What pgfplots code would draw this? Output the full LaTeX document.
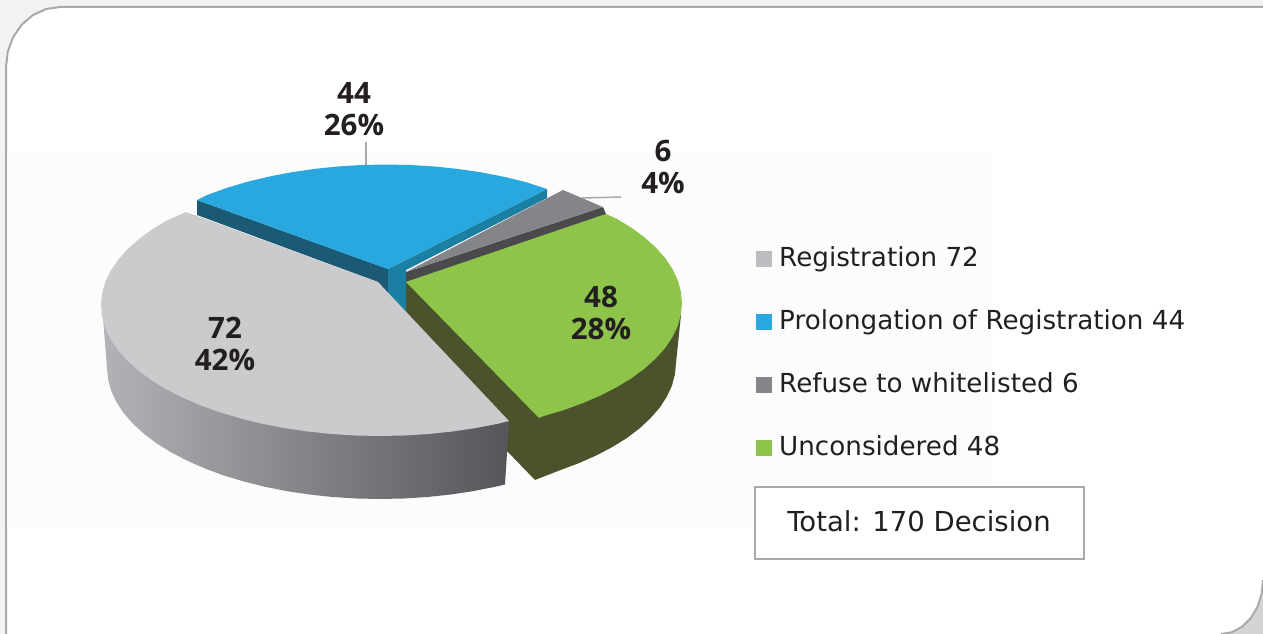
\documentclass[border=0pt]{standalone}
\usepackage{pgfplots}
\pgfplotsset{compat=1.18}
\usepackage{fontspec}
\setmainfont{DejaVu Sans}
\newfontfamily\labelfont[Ligatures=TeX]{Open Sans}
\definecolor{cTxt}{HTML}{231F20}
\definecolor{cFrame}{HTML}{A7A9AC}
\definecolor{cGrayTop}{HTML}{CBCBCD}
\definecolor{cGrayLeg}{HTML}{BCBDC0}
\definecolor{cBlue}{HTML}{29A8DF}
\definecolor{cTealD}{HTML}{1B5A75}
\definecolor{cTealB}{HTML}{1A7FA2}
\definecolor{cDark}{HTML}{848589}
\definecolor{cDarkS}{HTML}{4A4A4D}
\definecolor{cGreen}{HTML}{8DC449}
\definecolor{cGreenS}{HTML}{4A532B}
\definecolor{cSideL}{HTML}{B2B3B6}
\definecolor{cSideM}{HTML}{8B8C90}
\definecolor{cSideR}{HTML}{55555A}
\begin{document}
\begin{tikzpicture}
\begin{axis}[
  scale only axis, width=1263pt, height=634pt,
  xmin=0, xmax=1263, ymin=0, ymax=634, y dir=reverse,
  hide axis, no markers,
  every axis plot/.append style={forget plot},
  legend cell align=left,
  legend image code/.code={\path[#1,draw=none] (0pt,-8pt) rectangle (16pt,8pt); \path (23pt,0pt);},
  legend style={at={(axis cs:756,246)}, anchor=north west, draw=none, fill=none,
    font=\fontsize{26.2}{30}\selectfont, text=cTxt, row sep=37pt,
    inner sep=0pt, outer sep=0pt,
    nodes={inner sep=0pt, outer sep=0pt, text height=20pt, text depth=6pt}},
]
% outer shadow
\addplot[fill=black!5, draw=none] coordinates {(0,0)(1263,0)(1263,7)(60,7)(46,9)(33,15)(21.8,24.6)(13.2,37)(7.8,51.5)(6,67)(6,634)(0,634)} --cycle;
\addplot[fill=black!17, draw=none] coordinates {(1263,580)(1261.6,594)(1257.4,607)(1250.7,618.2)(1242,626.8)(1231.9,632.2)(1221,634)(1263,634)} --cycle;
\addplot[draw=cFrame, line width=2pt] coordinates {(1263,7)(60,7)(46,9)(33,15)(21.8,24.6)(13.2,37)(7.8,51.5)(6,67)(6,634)};
\addplot[draw=cFrame, line width=2pt] coordinates {(1263,580)(1261.6,594)(1257.4,607)(1250.7,618.2)(1242,626.8)(1231.9,632.2)(1221,634)};
% faint background
\addplot[fill=black!1, draw=none] coordinates {(7,153)(992,153)(992,528)(7,528)} --cycle;
% blue slice sides
\addplot[fill=cTealD, draw=none] coordinates {(197,200)(388,269)(388,294)(378,282)(197,215)} --cycle;
\addplot[fill=cTealB, draw=none] coordinates {(388,269)(547,189)(547,198)(406,270)(406,314)(388,294)} --cycle;
% blue top
\addplot[fill=cBlue, draw=none] coordinates {(197,200)(206.6,195.2)(225.9,188.2)(246.5,182)(268,176.8)(290.6,172.4)(313.7,169)(337.5,166.5)(361.7,165)(386,164.5)(410.3,165)(434.5,166.5)(458.3,169)(481.4,172.4)(504,176.8)(525.5,182)(547,189)(388,269)} --cycle;
% small slice
\addplot[fill=cDarkS, draw=none] coordinates {(406,272)(603,207)(606,214)(406,282)} --cycle;
\addplot[fill=cDark, draw=none] coordinates {(406,272)(563,190)(603,207)} --cycle;
% green side
\addplot[fill=cGreenS, draw=none] coordinates {(406,282)(406,312)(506,450)(535,480)(559.7,470.3)(578.5,463.3)(596,455.6)(612,447.2)(626.6,438.2)(639.4,428.5)(650.3,418.4)(659.6,407.8)(666.7,396.9)(671.9,385.8)(674.9,374.4)(676,363)(681,315)(606,214)} --cycle;
% green top
\addplot[fill=cGreen, draw=none] coordinates {(406,282)(606,214)(616.7,218.8)(631.5,227.8)(644.6,237.5)(655.8,247.6)(665.3,258.2)(672.5,269.1)(677.8,280.2)(680.9,291.6)(682,303)(680.9,314.4)(677.8,325.8)(672.5,336.9)(665.3,347.8)(655.8,358.4)(644.6,368.5)(631.5,378.2)(616.7,387.2)(600.3,395.6)(582.4,403.3)(563.1,410.3)(542.5,416.4)(539,418)} --cycle;
% gray side
\addplot[draw=none, left color=cSideL, middle color=cSideM, right color=cSideR] coordinates {(102,305)(107,368)(108.1,379.4)(111.1,390.8)(116.3,401.9)(123.4,412.8)(132.7,423.4)(143.6,433.5)(156.4,443.2)(170.9,452.2)(187,460.6)(204.5,468.3)(223.3,475.3)(243.5,481.4)(264.5,486.7)(286.6,491.1)(309.3,494.5)(332.5,497)(356.2,498.5)(380,499)(403.8,498.5)(427.5,497)(450.7,494.5)(473.4,491.1)(495.5,486.7)(505,484.5)(509,421)(380,300)} --cycle;
% gray top
\addplot[fill=cGrayTop, draw=none] coordinates {(186,212)(378,282)(509,421)(498,423.7)(475.4,428.1)(452.3,431.5)(428.5,434)(404.3,435.5)(380,436)(355.7,435.5)(331.5,434)(307.7,431.5)(284.6,428.1)(262,423.7)(240.5,418.4)(219.9,412.3)(200.6,405.3)(182.7,397.6)(166.3,389.2)(151.5,380.2)(138.4,370.5)(127.2,360.4)(117.8,349.8)(110.5,338.9)(105.2,327.8)(102.1,316.4)(101,305)(102.1,293.6)(105.2,282.2)(110.5,271.1)(117.8,260.2)(127.2,249.6)(138.4,239.5)(151.5,229.8)(166.3,220.8)} --cycle;
% leader lines
\addplot[draw=cFrame, line width=2pt] coordinates {(366,142)(366,165)};
\addplot[draw=cFrame, line width=1.5pt] coordinates {(582,198)(621,197)};
% total box
\addplot[fill=white, draw=cFrame, line width=2.5pt] coordinates {(755,487)(1084,487)(1084,559)(755,559)} --cycle;
% legend
\addlegendimage{fill=cGrayLeg}\addlegendentry{Registration 72}
\addlegendimage{fill=cBlue}\addlegendentry{Prolongation of Registration 44}
\addlegendimage{fill=cDark}\addlegendentry{Refuse to whitelisted 6}
\addlegendimage{fill=cGreen}\addlegendentry{Unconsidered 48}
% labels
\node[text=cTxt, font=\fontsize{27.5}{30}\selectfont] at (axis cs:919,521) {Total: 170 Decision};
\node[text=cTxt, align=center, font=\labelfont\bfseries\fontsize{29.5}{32}\selectfont] at (axis cs:354,109) {44\\26\%};
\node[text=cTxt, align=center, font=\labelfont\bfseries\fontsize{29.5}{32}\selectfont] at (axis cs:663,167) {6\\4\%};
\node[text=cTxt, align=center, font=\labelfont\bfseries\fontsize{29.5}{32}\selectfont] at (axis cs:601,313) {48\\28\%};
\node[text=cTxt, align=center, font=\labelfont\bfseries\fontsize{29.5}{32}\selectfont] at (axis cs:225,344) {72\\42\%};
\end{axis}
\end{tikzpicture}
\end{document}
